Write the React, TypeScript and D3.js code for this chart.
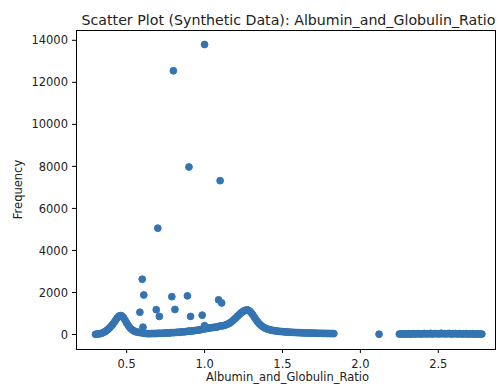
import * as d3 from 'd3';

// tick labels
const xTicks = [0.5, 1.0, 1.5, 2.0, 2.5];
const yTicks = [0, 2000, 4000, 6000, 8000, 10000, 12000, 14000];

// [ratio, frequency]
const firstHump: [number, number][] = [
  [0.30, 10], [0.31, 15], [0.32, 25], [0.33, 40], [0.34, 60], [0.35, 90], [0.36, 130], [0.37, 180],
  [0.38, 240], [0.39, 310], [0.40, 390], [0.41, 480], [0.42, 580], [0.43, 690], [0.44, 790], [0.45, 870],
  [0.46, 900], [0.47, 880], [0.48, 800], [0.49, 680], [0.50, 550], [0.51, 430], [0.52, 330], [0.53, 260],
  [0.54, 200], [0.55, 160], [0.56, 130], [0.57, 110], [0.58, 100], [0.59, 90],
];

const lowBand: [number, number][] = [
  [0.60, 80], [0.61, 60], [0.62, 50], [0.63, 45], [0.64, 40], [0.65, 40], [0.66, 45], [0.67, 50],
  [0.68, 45], [0.69, 50], [0.70, 55], [0.71, 60], [0.72, 55], [0.73, 60], [0.74, 65], [0.75, 70],
  [0.76, 75], [0.77, 70], [0.78, 80], [0.79, 90], [0.80, 85], [0.81, 95], [0.82, 100], [0.83, 110],
  [0.84, 105], [0.85, 120], [0.86, 130], [0.87, 125], [0.88, 140], [0.89, 150], [0.90, 160], [0.91, 170],
  [0.92, 165], [0.93, 180], [0.94, 190], [0.95, 200], [0.96, 210], [0.97, 220], [0.98, 240], [0.99, 260],
  [1.00, 270], [1.01, 280], [1.02, 300], [1.03, 310], [1.04, 320], [1.05, 330], [1.06, 340], [1.07, 350],
  [1.08, 360], [1.09, 380], [1.10, 400],
];

const secondHump: [number, number][] = [
  [1.11, 410], [1.12, 420], [1.13, 440], [1.14, 470], [1.15, 500], [1.16, 540], [1.17, 590], [1.18, 650],
  [1.19, 720], [1.20, 790], [1.21, 860], [1.22, 930], [1.23, 1000], [1.24, 1060], [1.25, 1110], [1.26, 1150],
  [1.27, 1170], [1.28, 1160], [1.29, 1110], [1.30, 1030], [1.31, 930], [1.32, 820], [1.33, 710], [1.34, 610],
  [1.35, 520], [1.36, 450], [1.37, 390], [1.38, 340], [1.39, 300], [1.40, 270], [1.41, 245], [1.42, 225],
  [1.43, 205], [1.44, 190], [1.45, 178],
];

const tail: [number, number][] = [
  [1.46, 168], [1.47, 158], [1.48, 150], [1.49, 143], [1.50, 136], [1.51, 130], [1.52, 124], [1.53, 118],
  [1.54, 113], [1.55, 108], [1.56, 104], [1.57, 100], [1.58, 96], [1.59, 92], [1.60, 89], [1.61, 86],
  [1.62, 83], [1.63, 80], [1.64, 77], [1.65, 75], [1.66, 72], [1.67, 70], [1.68, 68], [1.69, 66],
  [1.70, 64], [1.71, 62], [1.72, 60], [1.73, 58], [1.74, 56], [1.75, 55], [1.76, 53], [1.77, 52],
  [1.78, 50], [1.79, 49], [1.80, 48], [1.81, 46], [1.82, 45], [1.83, 44],
];

const loner: [number, number][] = [[2.12, 15]];

const rightCluster: [number, number][] = [
  [2.25, 20], [2.26, 25], [2.27, 22], [2.28, 30], [2.29, 18], [2.30, 26], [2.31, 35], [2.32, 20],
  [2.33, 28], [2.34, 40], [2.35, 24], [2.36, 30], [2.37, 45], [2.38, 22], [2.39, 34], [2.40, 28],
  [2.41, 50], [2.42, 26], [2.43, 38], [2.44, 30], [2.45, 55], [2.46, 24], [2.47, 36], [2.48, 48],
  [2.49, 30], [2.50, 42], [2.51, 26], [2.52, 60], [2.53, 32], [2.54, 44], [2.55, 28], [2.56, 38],
  [2.57, 52], [2.58, 24], [2.59, 40], [2.60, 30], [2.61, 46], [2.62, 26], [2.63, 34], [2.64, 42],
  [2.65, 22], [2.66, 36], [2.67, 28], [2.68, 44], [2.69, 20], [2.70, 32], [2.71, 26], [2.72, 38],
  [2.73, 18], [2.74, 28], [2.75, 24], [2.76, 30], [2.77, 20], [2.78, 22],
];

const outliers: [number, number][] = [
  [0.585, 1060], [0.60, 2630], [0.61, 1880], [0.605, 350], [0.69, 1180], [0.70, 5060], [0.71, 860],
  [0.79, 1800], [0.80, 12550], [0.81, 1190], [0.89, 1840], [0.90, 7970], [0.91, 860], [0.985, 920],
  [1.00, 13800], [1.00, 420], [1.09, 1650], [1.10, 7320], [1.11, 1500],
];

const points = [...firstHump, ...lowBand, ...secondHump, ...tail, ...loner, ...rightCluster, ...outliers];

const W = 501;
const H = 389;
const box = { left: 76, right: 495, top: 30, bottom: 349 };
const dot = '#3574b2';
const font = 'DejaVu Sans, sans-serif';

export default function App() {
  const x = d3.scaleLinear().domain([0.175, 2.864]).range([box.left, box.right]);
  const y = d3.scaleLinear().domain([-690, 14490]).range([box.bottom, box.top]);
  const cx = (box.left + box.right) / 2;
  const cy = (box.top + box.bottom) / 2;

  return (
    <svg width={W} height={H} style={{ position: 'absolute', left: 0, top: 0, background: '#fff' }}
      fontFamily={font}>
      <rect width={W} height={H} fill="#fff" />
      <g>
        {points.map((d, i) => (
          <circle key={i} cx={x(d[0])} cy={y(d[1])} r={3.4} fill={dot} stroke={dot} strokeWidth={1} />
        ))}
      </g>
      <rect x={box.left} y={box.top} width={box.right - box.left} height={box.bottom - box.top}
        fill="none" stroke="#000" strokeWidth={1} shapeRendering="crispEdges" />
      {xTicks.map(t => (
        <g key={t} transform={`translate(${x(t)},${box.bottom})`}>
          <line y2={4} stroke="#000" strokeWidth={1} />
          <text y={18.5} textAnchor="middle" fontSize={11.5} fill="#222">{d3.format('.1f')(t)}</text>
        </g>
      ))}
      {yTicks.map(t => (
        <g key={t} transform={`translate(${box.left},${y(t)})`}>
          <line x2={-4} stroke="#000" strokeWidth={1} />
          <text x={-8} dy="0.36em" textAnchor="end" fontSize={11.5} fill="#222">{t}</text>
        </g>
      ))}
      <text x={cx + 2} y={381} textAnchor="middle" fontSize={11.5} fill="#222">Albumin_and_Globulin_Ratio</text>
      <text transform={`translate(22,${cy}) rotate(-90)`} textAnchor="middle" fontSize={11.5} fill="#222">Frequency</text>
      <text x={cx + 3} y={24.5} textAnchor="middle" fontSize={14.2} fill="#222">
        Scatter Plot (Synthetic Data): Albumin_and_Globulin_Ratio
      </text>
    </svg>
  );
}
